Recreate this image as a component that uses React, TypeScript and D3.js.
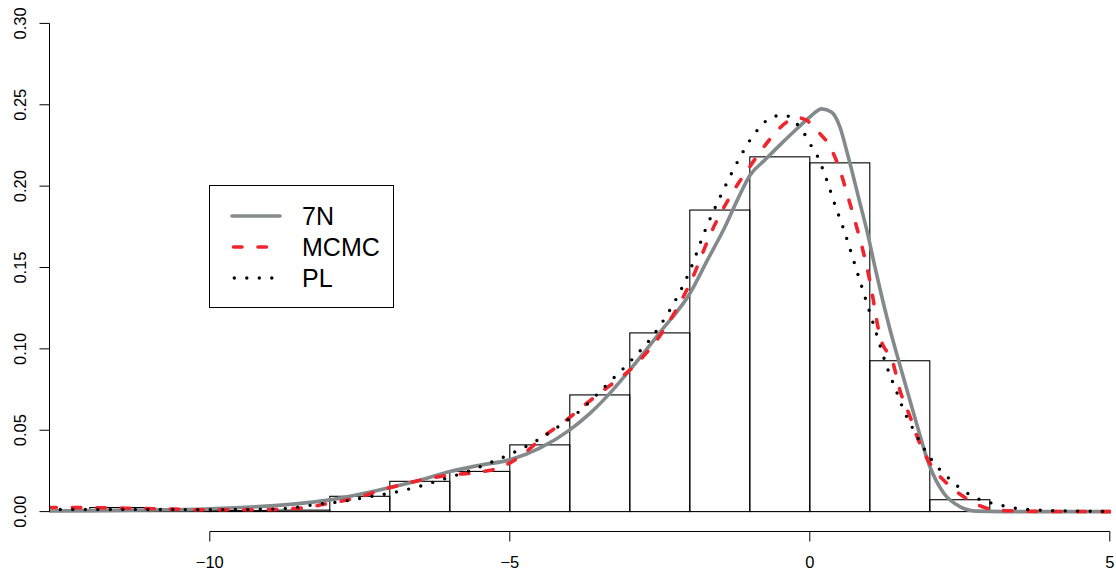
import React from "react";
import * as d3 from "d3";

// Histogram
const binEdges = [-13, -12, -11, -10, -9, -8, -7, -6, -5, -4, -3, -2, -1, 0, 1, 2, 3];
const binDensity = [0.0004, 0.0025, 0.0012, 0.0006, 0.0009, 0.0094, 0.0186, 0.0247, 0.041, 0.0717, 0.1098, 0.1853, 0.218, 0.2143, 0.0927, 0.0073];

// 7N (grey solid)
const n7X = [-12.7, -12, -11, -10, -9, -8, -7.16, -6.5, -6, -5.5, -5, -4.5, -4, -3.66, -3.33, -3, -2.5, -2, -1.7, -1.44, -1.2, -1.0, -0.75, -0.5, -0.25, 0, 0.2, 0.36, 0.5, 0.62, 0.84, 0.95, 1.1, 1.34, 1.48, 1.73, 2.0, 2.23, 2.5, 2.78, 3.2, 5.1];
const n7Y = [0.0004, 0.0006, 0.001, 0.0017, 0.0035, 0.0072, 0.0134, 0.0192, 0.0246, 0.0285, 0.0318, 0.039, 0.0502, 0.0605, 0.0728, 0.087, 0.11, 0.134, 0.155, 0.173, 0.192, 0.2065, 0.216, 0.2252, 0.234, 0.2425, 0.2475, 0.2455, 0.2365, 0.221, 0.189, 0.173, 0.148, 0.1114, 0.0928, 0.0605, 0.0277, 0.0114, 0.0031, 0.0003, 0, 0];

// MCMC (red dashed)
const mcmcX = [-12.7, -12, -11.4, -10.6, -10.16, -9.3, -8.5, -8.05, -7.5, -7.16, -6.7, -6.33, -5.97, -5.57, -5.12, -4.79, -4.44, -4.07, -3.73, -3.43, -3.0, -2.5, -2.0, -1.6, -1.33, -1.0, -0.66, -0.38, -0.2, -0.05, 0.03, 0.15, 0.34, 0.5, 0.64, 0.75, 1.0, 1.17, 1.39, 1.5, 1.67, 1.81, 2.0, 2.28, 2.56, 2.95, 3.3, 4, 5.1];
const mcmcY = [0.0025, 0.0024, 0.0021, 0.0015, 0.0011, 0.0011, 0.0021, 0.0048, 0.009, 0.013, 0.0175, 0.0205, 0.0226, 0.024, 0.0277, 0.0349, 0.0461, 0.0559, 0.0662, 0.0748, 0.087, 0.108, 0.14, 0.175, 0.1935, 0.212, 0.229, 0.2395, 0.242, 0.2405, 0.2375, 0.233, 0.224, 0.21, 0.193, 0.179, 0.142, 0.1075, 0.091, 0.0748, 0.0584, 0.044, 0.0298, 0.0175, 0.0093, 0.0021, 0.0005, 0.0001, 0];

// PL (black dotted)
const plX = [-12.7, -12, -11, -10, -9, -8.5, -8.27, -7.8, -7.38, -6.97, -6.54, -6.12, -5.71, -5.28, -4.9, -4.51, -4.15, -3.8, -3.5, -3.33, -3.0, -2.5, -2.0, -1.72, -1.55, -1.36, -1.16, -0.94, -0.8, -0.63, -0.41, -0.25, -0.1, 0.0, 0.12, 0.28, 0.42, 0.56, 0.8, 1.09, 1.28, 1.44, 1.6, 1.7, 1.85, 2.03, 2.17, 2.33, 2.49, 2.67, 2.88, 3.08, 3.28, 3.5, 3.72, 3.95, 4.3, 4.7, 5.1];
const plY = [0.0013, 0.0013, 0.0013, 0.0012, 0.0015, 0.0028, 0.0042, 0.0062, 0.0089, 0.0115, 0.0152, 0.0198, 0.0246, 0.0308, 0.0369, 0.0445, 0.0533, 0.0629, 0.0737, 0.0799, 0.092, 0.114, 0.148, 0.175, 0.189, 0.2037, 0.218, 0.2313, 0.2375, 0.2426, 0.2436, 0.2395, 0.2328, 0.2262, 0.219, 0.204, 0.1884, 0.174, 0.146, 0.1117, 0.0895, 0.0742, 0.0594, 0.0523, 0.042, 0.0318, 0.0257, 0.02, 0.0148, 0.0103, 0.0068, 0.0048, 0.0031, 0.0017, 0.0011, 0.0007, 0.0004, 0.0002, 0.0001];

const xTicks = [-10, -5, 0, 5];
const yTicks = [0, 0.05, 0.1, 0.15, 0.2, 0.25, 0.3];
const yTickLabels = ["0.00", "0.05", "0.10", "0.15", "0.20", "0.25", "0.30"];
const legendLabels = ["7N", "MCMC", "PL"];

const W = 1116;
const H = 574;
const FONT = "'Liberation Sans', Arial, Helvetica, sans-serif";
const GREY = "#848a8c";
const RED = "#f0242c";

export default function App() {
  const x = d3.scaleLinear().domain([-10, 5]).range([209.8, 1109.8]);
  const y = d3.scaleLinear().domain([0, 0.3]).range([511.6, 23.4]);

  const clipLeft = 49.3;
  const clipRight = 1111;
  const clipTop = y(0.312);
  const clipBottom = y(-0.012);

  const line = d3
    .line<[number, number]>()
    .x((d) => x(d[0]))
    .y((d) => y(d[1]))
    .curve(d3.curveMonotoneX);

  const zip = (xs: number[], ys: number[]) => xs.map((v, i) => [v, ys[i]] as [number, number]);

  const axisY = 531.5;
  const yAxisX = 49.5;

  const legendRows = [216, 247, 278];

  return (
    <svg
      width={W}
      height={H}
      style={{ position: "absolute", left: 0, top: 0, background: "#fff" }}
      fontFamily={FONT}
    >
      <defs>
        <clipPath id="plotClip">
          <rect x={clipLeft} y={clipTop} width={clipRight - clipLeft} height={clipBottom - clipTop} />
        </clipPath>
      </defs>
      <rect x={0} y={0} width={W} height={H} fill="#fff" />

      <g clipPath="url(#plotClip)">
        {binDensity.map((d, i) => (
          <rect
            key={i}
            x={x(binEdges[i])}
            y={y(d)}
            width={x(binEdges[i + 1]) - x(binEdges[i])}
            height={y(0) - y(d)}
            fill="none"
            stroke="#000"
            strokeWidth={1.1}
          />
        ))}
        <path d={line(zip(n7X, n7Y)) || ""} fill="none" stroke={GREY} strokeWidth={3.6} strokeLinejoin="round" />
        <path
          d={line(zip(mcmcX, mcmcY)) || ""}
          fill="none"
          stroke={RED}
          strokeWidth={3.6}
          strokeDasharray="8.5 16"
          strokeLinecap="round"
        />
        <path
          d={line(zip(plX, plY)) || ""}
          fill="none"
          stroke="#000"
          strokeWidth={3.4}
          strokeDasharray="0 12.5"
          strokeLinecap="round"
        />
      </g>

      {/* y axis */}
      <line x1={yAxisX} x2={yAxisX} y1={y(0)} y2={y(0.3)} stroke="#000" strokeWidth={1} />
      {yTicks.map((t, i) => (
        <g key={i}>
          <line x1={yAxisX - 10} x2={yAxisX} y1={y(t)} y2={y(t)} stroke="#000" strokeWidth={1} />
          <text
            transform={`translate(25.5, ${y(t)}) rotate(-90)`}
            textAnchor="middle"
            fontSize={16.5}
            fill="#000"
          >
            {yTickLabels[i]}
          </text>
        </g>
      ))}

      {/* x axis */}
      <line x1={x(-10)} x2={x(5)} y1={axisY} y2={axisY} stroke="#000" strokeWidth={1} />
      {xTicks.map((t, i) => (
        <g key={i}>
          <line x1={x(t)} x2={x(t)} y1={axisY} y2={axisY + 10} stroke="#000" strokeWidth={1} />
          <text x={x(t)} y={568} textAnchor="middle" fontSize={16.5} fill="#000">
            {t < 0 ? "\u2212" + Math.abs(t) : String(t)}
          </text>
        </g>
      ))}

      {/* legend */}
      <rect x={209.5} y={185.5} width={184} height={122} fill="#fff" stroke="#000" strokeWidth={1} />
      <line x1={232} x2={280} y1={legendRows[0]} y2={legendRows[0]} stroke={GREY} strokeWidth={3.6} strokeLinecap="round" />
      <line
        x1={233.5}
        x2={281}
        y1={legendRows[1]}
        y2={legendRows[1]}
        stroke={RED}
        strokeWidth={3.6}
        strokeDasharray="8.5 16"
        strokeLinecap="round"
      />
      <line
        x1={234.3}
        x2={280}
        y1={legendRows[2]}
        y2={legendRows[2]}
        stroke="#000"
        strokeWidth={3.4}
        strokeDasharray="0 12.5"
        strokeLinecap="round"
      />
      {legendLabels.map((l, i) => (
        <text key={l} x={302} y={legendRows[i] + 8.8} fontSize={25} fill="#000">
          {l}
        </text>
      ))}
    </svg>
  );
}
